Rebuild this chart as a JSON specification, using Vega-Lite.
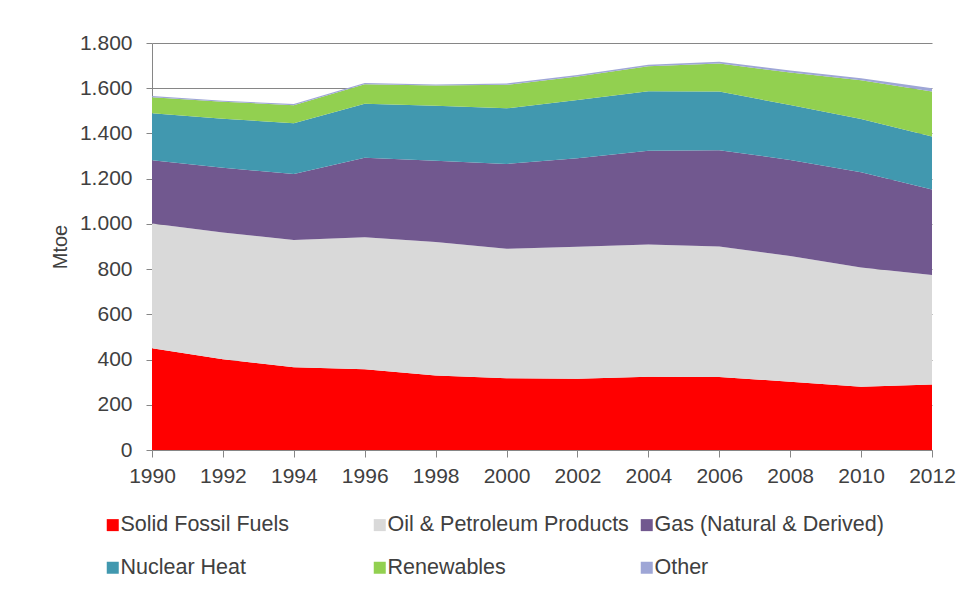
{
  "$schema": "https://vega.github.io/schema/vega-lite/v6.json",
  "autosize": {"type": "none"},
  "padding": {"left": 152, "top": 43, "right": 42, "bottom": 142},
  "width": 780,
  "height": 407,
  "background": "white",
  "datasets": {
    "energy": [
      {"year": 1990, "series": "Solid Fossil Fuels", "mtoe": 450},
      {"year": 1990, "series": "Oil & Petroleum Products", "mtoe": 552},
      {"year": 1990, "series": "Gas (Natural & Derived)", "mtoe": 279},
      {"year": 1990, "series": "Nuclear Heat", "mtoe": 208},
      {"year": 1990, "series": "Renewables", "mtoe": 71},
      {"year": 1990, "series": "Other", "mtoe": 6},
      {"year": 1992, "series": "Solid Fossil Fuels", "mtoe": 401},
      {"year": 1992, "series": "Oil & Petroleum Products", "mtoe": 561},
      {"year": 1992, "series": "Gas (Natural & Derived)", "mtoe": 286},
      {"year": 1992, "series": "Nuclear Heat", "mtoe": 217},
      {"year": 1992, "series": "Renewables", "mtoe": 75},
      {"year": 1992, "series": "Other", "mtoe": 5},
      {"year": 1994, "series": "Solid Fossil Fuels", "mtoe": 366},
      {"year": 1994, "series": "Oil & Petroleum Products", "mtoe": 563},
      {"year": 1994, "series": "Gas (Natural & Derived)", "mtoe": 292},
      {"year": 1994, "series": "Nuclear Heat", "mtoe": 224},
      {"year": 1994, "series": "Renewables", "mtoe": 80},
      {"year": 1994, "series": "Other", "mtoe": 5},
      {"year": 1996, "series": "Solid Fossil Fuels", "mtoe": 357},
      {"year": 1996, "series": "Oil & Petroleum Products", "mtoe": 584},
      {"year": 1996, "series": "Gas (Natural & Derived)", "mtoe": 351},
      {"year": 1996, "series": "Nuclear Heat", "mtoe": 239},
      {"year": 1996, "series": "Renewables", "mtoe": 87},
      {"year": 1996, "series": "Other", "mtoe": 5},
      {"year": 1998, "series": "Solid Fossil Fuels", "mtoe": 329},
      {"year": 1998, "series": "Oil & Petroleum Products", "mtoe": 591},
      {"year": 1998, "series": "Gas (Natural & Derived)", "mtoe": 359},
      {"year": 1998, "series": "Nuclear Heat", "mtoe": 243},
      {"year": 1998, "series": "Renewables", "mtoe": 90},
      {"year": 1998, "series": "Other", "mtoe": 5},
      {"year": 2000, "series": "Solid Fossil Fuels", "mtoe": 317},
      {"year": 2000, "series": "Oil & Petroleum Products", "mtoe": 573},
      {"year": 2000, "series": "Gas (Natural & Derived)", "mtoe": 375},
      {"year": 2000, "series": "Nuclear Heat", "mtoe": 246},
      {"year": 2000, "series": "Renewables", "mtoe": 104},
      {"year": 2000, "series": "Other", "mtoe": 6},
      {"year": 2002, "series": "Solid Fossil Fuels", "mtoe": 315},
      {"year": 2002, "series": "Oil & Petroleum Products", "mtoe": 584},
      {"year": 2002, "series": "Gas (Natural & Derived)", "mtoe": 391},
      {"year": 2002, "series": "Nuclear Heat", "mtoe": 258},
      {"year": 2002, "series": "Renewables", "mtoe": 104},
      {"year": 2002, "series": "Other", "mtoe": 6},
      {"year": 2004, "series": "Solid Fossil Fuels", "mtoe": 324},
      {"year": 2004, "series": "Oil & Petroleum Products", "mtoe": 585},
      {"year": 2004, "series": "Gas (Natural & Derived)", "mtoe": 415},
      {"year": 2004, "series": "Nuclear Heat", "mtoe": 263},
      {"year": 2004, "series": "Renewables", "mtoe": 110},
      {"year": 2004, "series": "Other", "mtoe": 7},
      {"year": 2006, "series": "Solid Fossil Fuels", "mtoe": 323},
      {"year": 2006, "series": "Oil & Petroleum Products", "mtoe": 577},
      {"year": 2006, "series": "Gas (Natural & Derived)", "mtoe": 426},
      {"year": 2006, "series": "Nuclear Heat", "mtoe": 259},
      {"year": 2006, "series": "Renewables", "mtoe": 124},
      {"year": 2006, "series": "Other", "mtoe": 8},
      {"year": 2008, "series": "Solid Fossil Fuels", "mtoe": 302},
      {"year": 2008, "series": "Oil & Petroleum Products", "mtoe": 556},
      {"year": 2008, "series": "Gas (Natural & Derived)", "mtoe": 425},
      {"year": 2008, "series": "Nuclear Heat", "mtoe": 243},
      {"year": 2008, "series": "Renewables", "mtoe": 144},
      {"year": 2008, "series": "Other", "mtoe": 8},
      {"year": 2010, "series": "Solid Fossil Fuels", "mtoe": 280},
      {"year": 2010, "series": "Oil & Petroleum Products", "mtoe": 527},
      {"year": 2010, "series": "Gas (Natural & Derived)", "mtoe": 421},
      {"year": 2010, "series": "Nuclear Heat", "mtoe": 236},
      {"year": 2010, "series": "Renewables", "mtoe": 171},
      {"year": 2010, "series": "Other", "mtoe": 9},
      {"year": 2012, "series": "Solid Fossil Fuels", "mtoe": 290},
      {"year": 2012, "series": "Oil & Petroleum Products", "mtoe": 484},
      {"year": 2012, "series": "Gas (Natural & Derived)", "mtoe": 378},
      {"year": 2012, "series": "Nuclear Heat", "mtoe": 234},
      {"year": 2012, "series": "Renewables", "mtoe": 199},
      {"year": 2012, "series": "Other", "mtoe": 15}
    ],
    "stackOrder": [
      {"series": "Solid Fossil Fuels", "rank": 1},
      {"series": "Oil & Petroleum Products", "rank": 2},
      {"series": "Gas (Natural & Derived)", "rank": 3},
      {"series": "Nuclear Heat", "rank": 4},
      {"series": "Renewables", "rank": 5},
      {"series": "Other", "rank": 6}
    ]
  },
  "data": {"name": "energy"},
  "transform": [
    {"lookup": "series", "from": {"data": {"name": "stackOrder"}, "key": "series", "fields": ["rank"]}}
  ],
  "mark": {"type": "area", "interpolate": "linear"},
  "encoding": {
    "x": {
      "field": "year",
      "type": "quantitative",
      "scale": {"domain": [1990, 2012], "nice": false, "zero": false},
      "axis": {
        "title": null,
        "values": [1990, 1992, 1994, 1996, 1998, 2000, 2002, 2004, 2006, 2008, 2010, 2012],
        "format": "d",
        "grid": false,
        "labelFontSize": 21,
        "labelColor": "#404040",
        "labelPadding": 8,
        "labelFlush": false,
        "labelOverlap": false,
        "tickSize": 7,
        "tickColor": "#868686",
        "domainColor": "#868686"
      }
    },
    "y": {
      "field": "mtoe",
      "type": "quantitative",
      "stack": "zero",
      "scale": {"domain": [0, 1800], "nice": false},
      "axis": {
        "title": "Mtoe",
        "titleFontSize": 20,
        "titleFontWeight": "normal",
        "titleColor": "#404040",
        "titlePadding": 9,
        "values": [0, 200, 400, 600, 800, 1000, 1200, 1400, 1600, 1800],
        "labelExpr": "replace(format(datum.value, ','), ',', '.')",
        "labelFontSize": 21,
        "labelColor": "#404040",
        "labelPadding": 14,
        "tickSize": 6,
        "tickColor": "#868686",
        "domainColor": "#868686",
        "grid": true,
        "gridColor": "#868686",
        "gridWidth": 1
      }
    },
    "color": {
      "field": "series",
      "type": "nominal",
      "scale": {
        "domain": ["Solid Fossil Fuels", "Oil & Petroleum Products", "Gas (Natural & Derived)", "Nuclear Heat", "Renewables", "Other"],
        "range": ["#FF0000", "#D9D9D9", "#71588F", "#4198AF", "#92D050", "#9EA6D6"]
      },
      "legend": {
        "title": null,
        "orient": "none",
        "legendX": -50,
        "legendY": 471,
        "direction": "horizontal",
        "columns": 3,
        "gridAlign": "all",
        "columnPadding": 7,
        "rowPadding": 20,
        "symbolType": "square",
        "symbolSize": 144,
        "symbolStrokeWidth": 0,
        "labelFontSize": 21.5,
        "labelColor": "#404040",
        "labelOffset": -3,
        "labelLimit": 400
      }
    },
    "order": {"field": "rank", "type": "quantitative", "sort": "ascending"}
  },
  "config": {
    "font": "Liberation Sans",
    "view": {"stroke": null}
  }
}
